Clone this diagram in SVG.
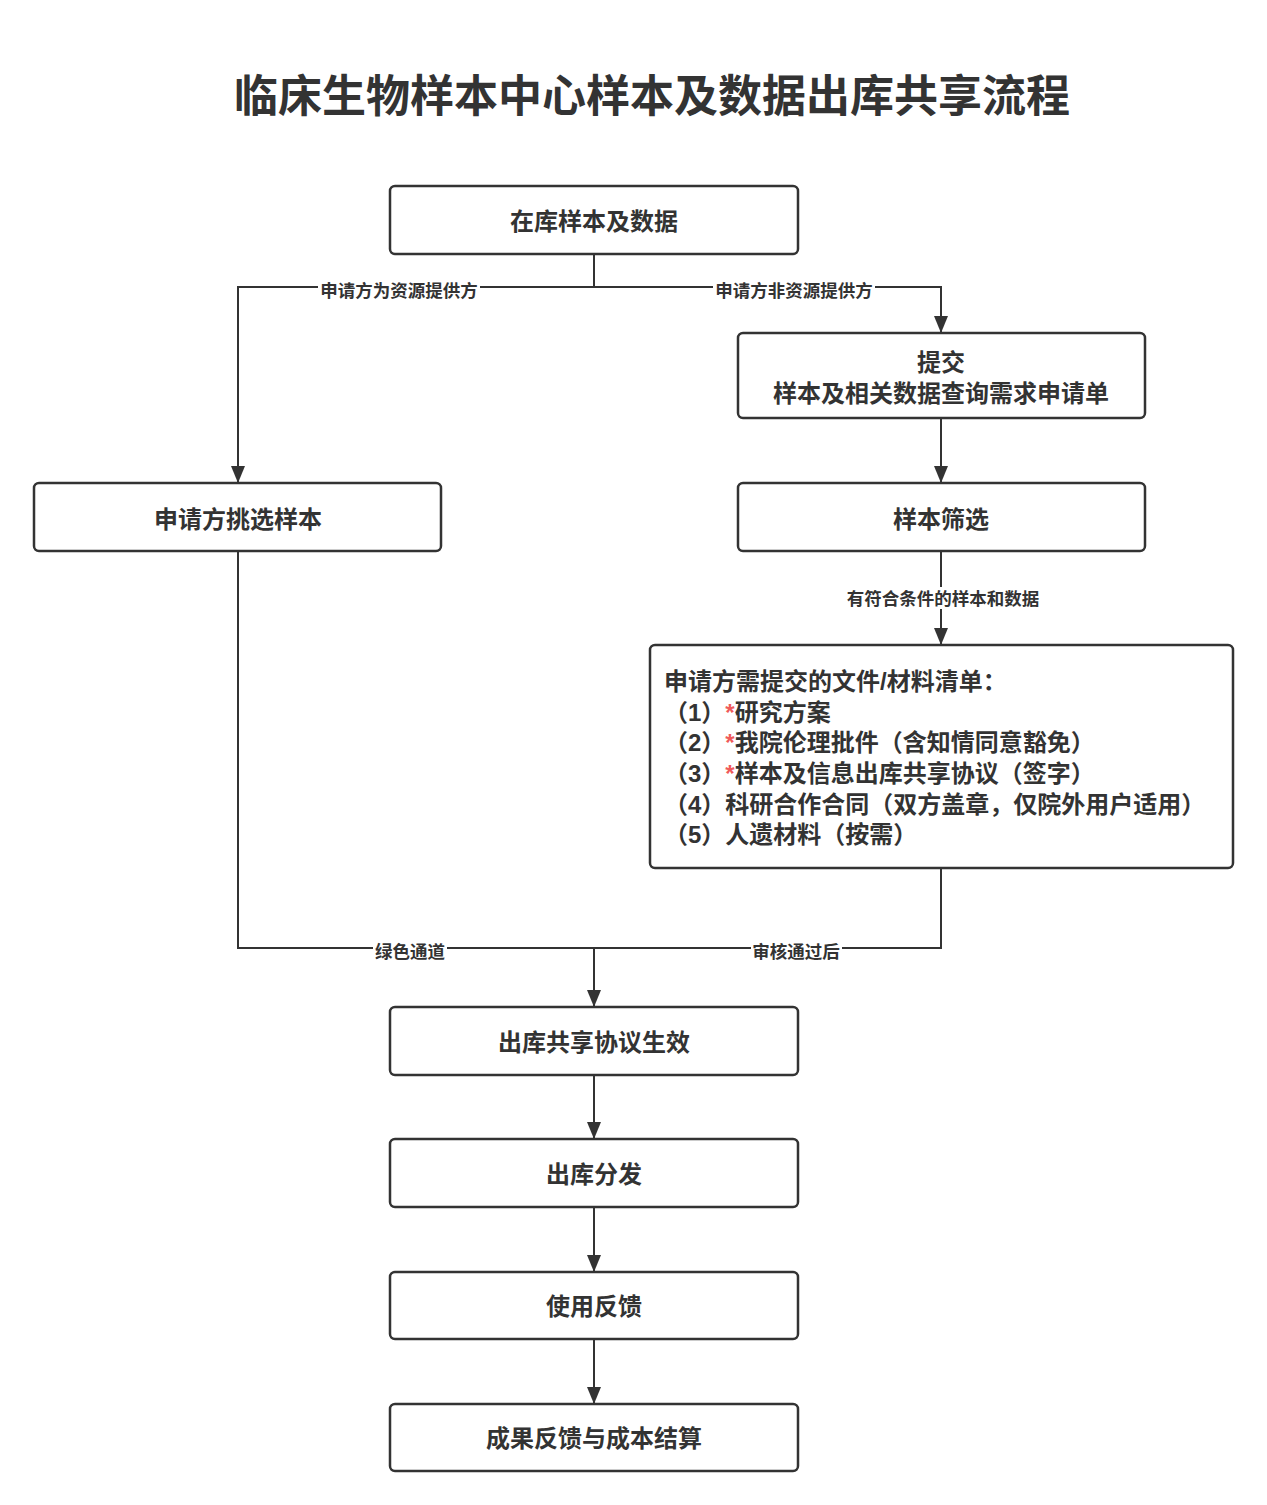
<svg xmlns="http://www.w3.org/2000/svg" width="1267" height="1505" viewBox="0 0 1267 1505">
<defs>
<marker id="arr" markerUnits="userSpaceOnUse" markerWidth="18" markerHeight="14" viewBox="0 0 18 14" refX="17" refY="7" orient="auto">
<path d="M0,0 L17,7 L0,14 Z" fill="#333"/>
</marker>
<style>
.box{fill:#fff;stroke:#333;stroke-width:2.5}
.t{font-family:"Noto Sans CJK SC","Noto Sans",sans-serif;font-weight:bold;fill:#333}
.bt{font-size:24px;text-anchor:middle;dominant-baseline:central}
.lt{font-size:17.5px;text-anchor:middle;dominant-baseline:central}
.li{font-family:"Liberation Sans","Noto Sans CJK SC",sans-serif;font-weight:bold;fill:#333;font-size:24px}
.ln{fill:none;stroke:#333;stroke-width:2}
.lbg{fill:#fff}
.red{fill:#f05a5a}
</style>
</defs>
<rect width="1267" height="1505" fill="#fff"/>
<text class="t" x="652" y="93" font-size="44" font-weight="900" text-anchor="middle" dominant-baseline="central">临床生物样本中心样本及数据出库共享流程</text>

<g id="connectors">
<path class="ln" d="M594,254 V287 H238 V483" marker-end="url(#arr)"/>
<path class="ln" d="M594,287 H941 V333" marker-end="url(#arr)"/>
<path class="ln" d="M941,418 V483" marker-end="url(#arr)"/>
<path class="ln" d="M941,551 V645" marker-end="url(#arr)"/>
<path class="ln" d="M238,551 V948 H594"/>
<path class="ln" d="M941,868 V948 H594 V1007" marker-end="url(#arr)"/>
<path class="ln" d="M594,1075 V1139" marker-end="url(#arr)"/>
<path class="ln" d="M594,1207 V1272" marker-end="url(#arr)"/>
<path class="ln" d="M594,1339 V1404" marker-end="url(#arr)"/>
<rect class="lbg" x="318" y="279" width="162" height="22"/>
<text class="t lt" x="399" y="289">申请方为资源提供方</text>
<rect class="lbg" x="713" y="279" width="162" height="22"/>
<text class="t lt" x="794" y="289">申请方非资源提供方</text>
<rect class="lbg" x="844" y="587" width="198" height="22"/>
<text class="t lt" x="943" y="597">有符合条件的样本和数据</text>
<rect class="lbg" x="373" y="940" width="74" height="22"/>
<text class="t lt" x="410" y="950">绿色通道</text>
<rect class="lbg" x="751" y="940" width="91" height="22"/>
<text class="t lt" x="796" y="950">审核通过后</text>
</g>

<g id="n1">
<rect class="box" x="390" y="186" width="408" height="68" rx="5"/>
<text class="t bt" x="594" y="219">在库样本及数据</text>
</g>
<g id="n2">
<rect class="box" x="738" y="333" width="407" height="85" rx="5"/>
<text class="li" text-anchor="middle" x="941" y="371">提交<tspan x="941" y="402">样本及相关数据查询需求申请单</tspan></text>
</g>
<g id="n3">
<rect class="box" x="34" y="483" width="407" height="68" rx="5"/>
<text class="t bt" x="238" y="517">申请方挑选样本</text>
</g>
<g id="n4">
<rect class="box" x="738" y="483" width="407" height="68" rx="5"/>
<text class="t bt" x="941" y="517">样本筛选</text>
</g>
<g id="n5">
<rect class="box" x="650" y="645" width="583" height="223" rx="5"/>
<text class="li" x="664" y="690">申请方需提交的文件/材料清单：<tspan x="664" y="721">（1）<tspan class="red">*</tspan>研究方案</tspan><tspan x="664" y="751">（2）<tspan class="red">*</tspan>我院伦理批件（含知情同意豁免）</tspan><tspan x="664" y="782">（3）<tspan class="red">*</tspan>样本及信息出库共享协议（签字）</tspan><tspan x="664" y="813">（4）科研合作合同（双方盖章，仅院外用户适用）</tspan><tspan x="664" y="843">（5）人遗材料（按需）</tspan></text>
</g>
<g id="n6">
<rect class="box" x="390" y="1007" width="408" height="68" rx="5"/>
<text class="t bt" x="594" y="1040">出库共享协议生效</text>
</g>
<g id="n7">
<rect class="box" x="390" y="1139" width="408" height="68" rx="5"/>
<text class="t bt" x="594" y="1172">出库分发</text>
</g>
<g id="n8">
<rect class="box" x="390" y="1272" width="408" height="67" rx="5"/>
<text class="t bt" x="594" y="1304">使用反馈</text>
</g>
<g id="n9">
<rect class="box" x="390" y="1404" width="408" height="67" rx="5"/>
<text class="t bt" x="594" y="1436">成果反馈与成本结算</text>
</g>
</svg>
